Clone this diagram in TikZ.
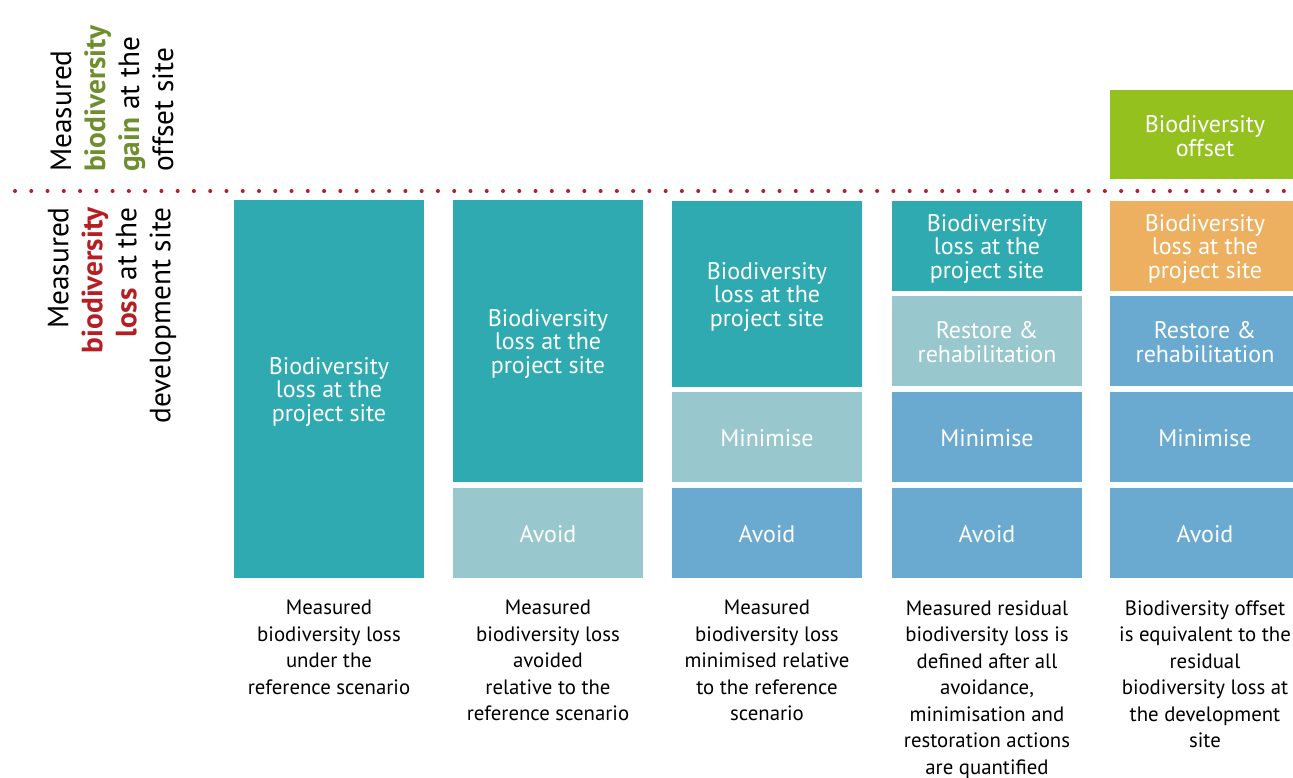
\documentclass[tikz,border=0pt]{standalone}
\usepackage{fontspec}
\setmainfont{PT Sans}
\usepackage{tikz}
\usetikzlibrary{positioning}

\definecolor{lossteal}{HTML}{2FAAB0}
\definecolor{palemint}{HTML}{98C8CE}
\definecolor{softblue}{HTML}{6AAAD0}
\definecolor{residorange}{HTML}{EDB060}
\definecolor{offsetgreen}{HTML}{95C11F}
\definecolor{lossred}{HTML}{B51F24}
\definecolor{gainolive}{HTML}{6F8F2F}

\newcommand{\blkfont}{\fontsize{18}{17.8}\selectfont}
\newcommand{\capfont}{\fontsize{15.6}{19.9}\selectfont}
\newcommand{\sidefont}{\fontsize{22}{25.5}\selectfont}

\tikzset{
  blktext/.style={inner sep=0pt, text=white, align=center, font=\blkfont},
  captext/.style={anchor=north, inner sep=0pt, align=center, font=\capfont},
  side/.style={rotate=90, inner sep=0pt, font=\sidefont},
  dotline/.style={lossred, line width=3pt, line cap=round, dash pattern=on 0pt off 12.2pt}
}

\begin{document}
\begin{tikzpicture}[x=0.75pt,y=0.75pt,yscale=-1,xscale=1]
\useasboundingbox (0,0) rectangle (1293,778);

%Side labels
\node[side, anchor=west, align=left] (gainlbl) at (112,172)
  {Measured\\\textbf{\color{gainolive}biodiversity}\\\textbf{\color{gainolive}gain} at the\\offset site};
\node[side, anchor=east, align=right] (losslbl) at (112,207)
  {Measured\\\textbf{\color{lossred}biodiversity}\\\textbf{\color{lossred}loss} at the\\development site};

%Dotted divider
\draw[dotline] (15,191) -- (1293,191);

%Column 1
\fill[lossteal] (234,200) rectangle (424,578);
\node[blktext] (lossA) at (329,392) {Biodiversity\\loss at the\\project site};

%Column 2
\fill[lossteal] (453,200) rectangle (643,482);
\fill[palemint] (453,488) rectangle (643,578);
\node[blktext] (lossB) at (548,344) {Biodiversity\\loss at the\\project site};
\node[blktext] (avoidB) at (548,534) {Avoid};

%Column 3
\fill[lossteal] (672,201) rectangle (862,387);
\fill[palemint] (672,392) rectangle (862,482);
\fill[softblue] (672,488) rectangle (862,578);
\node[blktext] (lossC) at (767,297) {Biodiversity\\loss at the\\project site};
\node[blktext] (minC) at (767,438) {Minimise};
\node[blktext] (avoidC) at (767,534) {Avoid};

%Column 4
\fill[lossteal] (892,201) rectangle (1082,291);
\fill[palemint] (892,296) rectangle (1082,386);
\fill[softblue] (892,392) rectangle (1082,482);
\fill[softblue] (892,488) rectangle (1082,578);
\node[blktext] (lossD) at (987,249) {Biodiversity\\loss at the\\project site};
\node[blktext] (restD) at (987,342) {Restore \&\\rehabilitation};
\node[blktext] (minD) at (987,438) {Minimise};
\node[blktext] (avoidD) at (987,534) {Avoid};

%Column 5
\fill[offsetgreen] (1110,90) rectangle (1293,179);
\fill[residorange] (1110,201) rectangle (1293,291);
\fill[softblue] (1110,296) rectangle (1293,386);
\fill[softblue] (1110,392) rectangle (1293,482);
\fill[softblue] (1110,488) rectangle (1293,578);
\node[blktext] (offsetE) at (1205,136) {Biodiversity\\offset};
\node[blktext] (lossE) at (1205,249) {Biodiversity\\loss at the\\project site};
\node[blktext] (restE) at (1205,342) {Restore \&\\rehabilitation};
\node[blktext] (minE) at (1205,438) {Minimise};
\node[blktext] (avoidE) at (1205,534) {Avoid};

% Captions
\node[captext] (capA) at (329,600) {Measured\\biodiversity loss\\under the\\reference scenario};
\node[captext] (capB) at (548,600) {Measured\\biodiversity loss\\avoided\\relative to the\\reference scenario};
\node[captext] (capC) at (767,600) {Measured\\biodiversity loss\\minimised relative\\to the reference\\scenario};
\node[captext] (capD) at (987,600) {Measured residual\\biodiversity loss is\\defined after all\\avoidance,\\minimisation and\\restoration actions\\are quantified};
\node[captext] (capE) at (1205,600) {Biodiversity offset\\is equivalent to the\\residual\\biodiversity loss at\\the development\\site};

\end{tikzpicture}
\end{document}
